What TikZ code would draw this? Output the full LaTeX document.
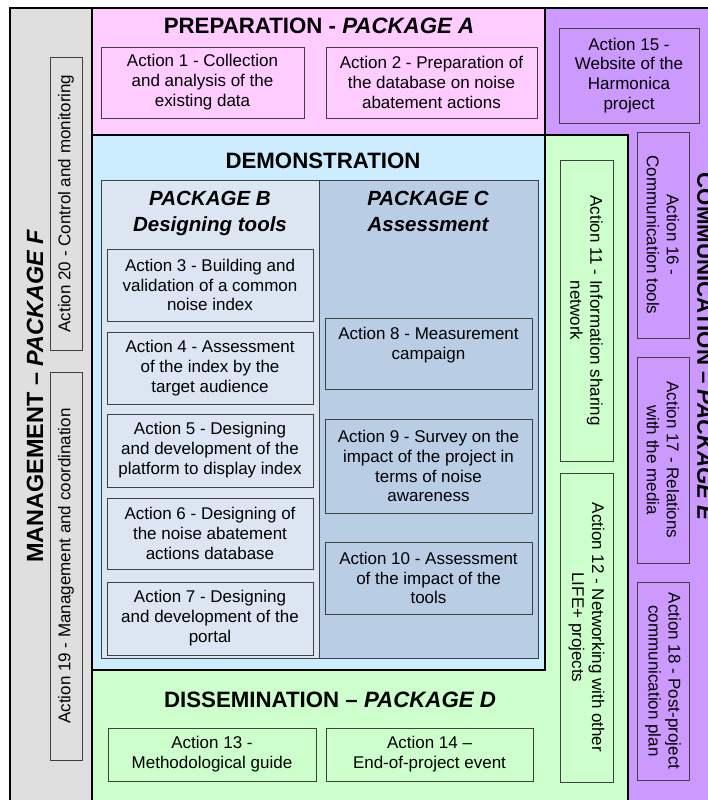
\documentclass[tikz,border=0pt]{standalone}
\usepackage{fontspec}
\setmainfont{Liberation Sans}
\definecolor{mgmtgray}{HTML}{DFDFDF}
\definecolor{preppink}{HTML}{FFCCFF}
\definecolor{compurple}{HTML}{CC99FF}
\definecolor{dissgreen}{HTML}{CCFFCC}
\definecolor{demoblue}{HTML}{CCECFF}
\definecolor{pkgbblue}{HTML}{DCE6F2}
\definecolor{pkgcblue}{HTML}{B9CDE5}
\definecolor{boxline}{HTML}{404040}
\begin{document}
\begin{tikzpicture}[x=0.03cm,y=-0.03cm,
	act/.style 2 args={draw=boxline,line width=0.8pt,minimum width=#1*0.03cm,minimum height=#2*0.03cm,
		inner sep=0pt,align=center,font=\fontsize{14.5}{17}\selectfont},
	title/.style={inner sep=0pt,font=\fontsize{19}{22}\selectfont\bfseries},
	pkgtitle/.style={inner sep=0pt,anchor=north,align=center,font=\fontsize{17.5}{22}\selectfont\bfseries\itshape}]
	\clip (0,0) rectangle (708,800);
	% work package areas
	\fill[mgmtgray] (10,8) rectangle (92,820);
	\fill[preppink] (92,8) rectangle (545,135);
	\fill[compurple] (545,8) rectangle (730,820);
	\fill[dissgreen] (92,135) rectangle (628,820);
	\fill[demoblue] (92,135) rectangle (545,670);
	\filldraw[fill=pkgbblue,draw=boxline,line width=0.8pt] (101,180) rectangle (319,658);
	\filldraw[fill=pkgcblue,draw=boxline,line width=0.8pt] (319,180) rectangle (538,658);
	% thick borders between packages
	\begin{scope}[line width=2.5pt]
		\draw (10,820) -- (10,8) -- (730,8);
		\draw (92,8) -- (92,820);
		\draw (545,8) -- (545,670) -- (92,670);
		\draw (92,135) -- (628,135) -- (628,820);
	\end{scope}

	% headings
	\node[title] (prep) at (319,25.5) {PREPARATION - \textit{PACKAGE A}};
	\node[title] (demo) at (323,161) {DEMONSTRATION};
	\node[pkgtitle] (pkgb) at (210,191) {PACKAGE B\\Designing tools};
	\node[pkgtitle] (pkgc) at (428,191) {PACKAGE C\\Assessment};
	\node[title] (diss) at (330,700) {DISSEMINATION -- \textit{PACKAGE D}};
	\node[title,font=\fontsize{20}{24}\selectfont\bfseries,rotate=90] (mgmt) at (35,396) {MANAGEMENT -- \textit{PACKAGE F}};
	\node[title,rotate=-90] (comm) at (705,347) {COMMUNICATION -- \textit{PACKAGE E}};

	% package A
	\node[act={203}{71}] (a1) at (202.5,82.5) {Action 1 - Collection\\and analysis of the\\existing data};
	\node[act={211}{71}] (a2) at (431.5,82.5) {Action 2 - Preparation of\\the database on noise\\abatement actions};
	% package B
	\node[act={206}{72}] (a3) at (210,285) {Action 3 - Building and\\validation of a common\\noise index};
	\node[act={206}{72}] (a4) at (210,368) {Action 4 - Assessment\\of the index by the\\target audience};
	\node[act={206}{73}] (a5) at (210,450.5) {Action 5 - Designing\\and development of the\\platform to display index};
	\node[act={206}{71}] (a6) at (210,533.5) {Action 6 - Designing of\\the noise abatement\\actions database};
	\node[act={206}{73}] (a7) at (210,618.5) {Action 7 - Designing\\and development of the\\portal};
	% package C
	\node[act={207}{71}] (a8) at (428.5,353.5) {Action 8 - Measurement\\campaign\\\mbox{}};
	\node[act={207}{94}] (a9) at (428.5,466) {Action 9 - Survey on the\\impact of the project in\\terms of noise\\awareness};
	\node[act={207}{72}] (a10) at (428.5,578) {Action 10 - Assessment\\of the impact of the\\tools};
	% package D
	\node[act={301}{53},rotate=-90] (a11) at (586.5,310.5) {Action 11 - Information sharing\\network};
	\node[act={309}{53},rotate=-90] (a12) at (586.5,627.5) {Action 12 - Networking with other\\LIFE+ projects};
	\node[act={208}{53}] (a13) at (212,754.5) {Action 13 -\\Methodological guide};
	\node[act={207}{53}] (a14) at (429.5,754.5) {Action 14 --\\End-of-project event};
	% package E
	\node[act={140}{95}] (a15) at (629,75.5) {Action 15 -\\Website of the\\Harmonica\\project};
	\node[act={206}{52},rotate=-90] (a16) at (663,235) {Action 16 -\\Communication tools};
	\node[act={206}{52},rotate=-90] (a17) at (663,460) {Action 17 - Relations\\with the media};
	\node[act={198}{52},rotate=-90] (a18) at (663,681) {Action 18 - Post-project\\communication plan};
	% package F
	\node[act={293}{32},rotate=90] (a20) at (66,203.5) {Action 20 - Control and monitoring};
	\node[act={388}{32},rotate=90] (a19) at (66,566) {Action 19 - Management and coordination};
\end{tikzpicture}
\end{document}
